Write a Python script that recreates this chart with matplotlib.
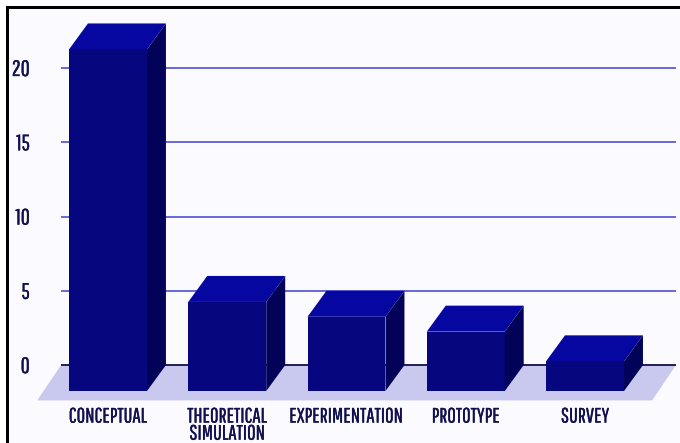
import matplotlib
matplotlib.use('Agg')
import matplotlib.pyplot as plt
import matplotlib.patheffects as pe
from matplotlib.patches import Polygon, Rectangle

categories = ['CONCEPTUAL', 'THEORETICAL\nSIMULATION', 'EXPERIMENTATION', 'PROTOTYPE', 'SURVEY']
values = [23, 6, 5, 4, 2]
y_ticks = [0, 5, 10, 15, 20]

# colours of the bar faces
front_color = '#06067F'
top_color = '#0606A0'
side_color = '#020258'
floor_color = '#C9C9EF'
grid_color = '#4F4FD6'
text_color = '#10104F'

# depth of the 3d effect, in data units
bar_half = 0.327
depth_x = 0.159
depth_y = 1.75

plt.rcParams['font.family'] = ['Pathway Gothic One', 'Liberation Sans', 'DejaVu Sans']

fig = plt.figure(figsize=(6.8, 4.43), dpi=100, facecolor='#FBFBFF')
ax = fig.add_axes([61 / 680, 42 / 443, 615 / 680, 393 / 443])
ax.set_facecolor('none')
ax.set_xlim(-0.394, 4.763)
ax.set_ylim(-2.42, 24.04)
for s in ax.spines.values():
    s.set_visible(False)

# floor under the bars
floor = [(ax.get_xlim()[0], 0), (ax.get_xlim()[1], 0),
         (ax.get_xlim()[1] - 0.2, ax.get_ylim()[0] + 0.04), (ax.get_xlim()[0] - 0.2, ax.get_ylim()[0] + 0.04)]
ax.add_patch(Polygon(floor, closed=True, fc=floor_color, ec='none', zorder=1, clip_on=False))

# grid lines on the back wall
for t in y_ticks:
    if t == 0:
        ax.axhline(t, color='#10104A', lw=1.3, zorder=2)
    else:
        ax.axhline(t, color=grid_color, lw=1.2, zorder=2)

# front faces come from bar(), top and side are added by hand
xs = list(range(len(values)))
ax.bar(xs, values, width=bar_half * 2, bottom=-depth_y, color=front_color, zorder=3)
for x, v in zip(xs, values):
    left, right = x - bar_half, x + bar_half
    top = v - depth_y
    ax.add_patch(Polygon([(left, top), (right, top), (right + depth_x, v), (left + depth_x, v)],
                         closed=True, fc=top_color, ec='none', zorder=3, clip_on=False))
    ax.add_patch(Polygon([(right, -depth_y), (right + depth_x, 0), (right + depth_x, v), (right, top)],
                         closed=True, fc=side_color, ec='none', zorder=3))

ax.set_yticks(y_ticks)
ax.set_xticks(xs, categories)
ax.tick_params(axis='y', length=0, pad=22.5, labelsize=16, labelcolor=text_color)
ax.tick_params(axis='x', length=0, pad=4, labelsize=15, labelcolor=text_color)

# thin stroke so the narrow font is as heavy as the rest of the chart
stroke = [pe.withStroke(linewidth=0.2, foreground=text_color)]
for lab in ax.get_xticklabels():
    lab.set_linespacing(0.82)
    lab.set_path_effects(stroke)
for lab in ax.get_yticklabels():
    lab.set_path_effects(stroke)

# white margin and black frame at the top and left
fig.add_artist(Rectangle((0, 0), 6 / 680, 1, transform=fig.transFigure, fc='white', ec='none'))
fig.add_artist(Rectangle((0, 1 - 6 / 443), 1, 6 / 443, transform=fig.transFigure, fc='white', ec='none'))
fig.add_artist(Rectangle((6 / 680, 0), 3 / 680, 1 - 6 / 443, transform=fig.transFigure, fc='black', ec='none'))
fig.add_artist(Rectangle((6 / 680, 1 - 9 / 443), 674 / 680, 3 / 443, transform=fig.transFigure, fc='black', ec='none'))

fig.savefig('out.png', dpi=100, facecolor=fig.get_facecolor())
